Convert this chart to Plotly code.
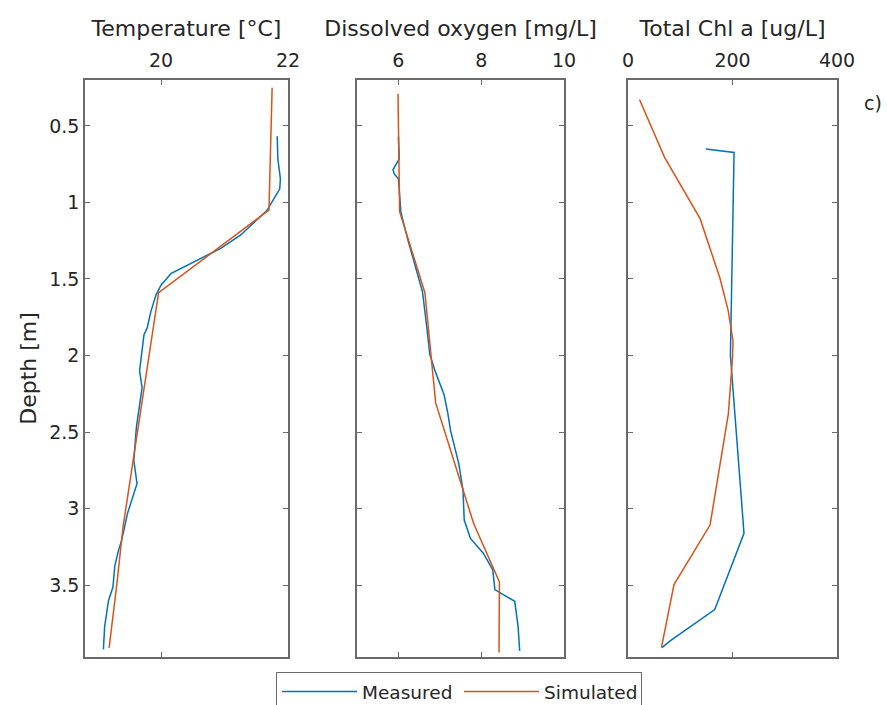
import plotly.graph_objects as go

# ---------------- data ----------------
# Temperature [°C]
temp_meas_depth = [0.567, 0.716, 0.846, 0.911, 1.052, 1.149, 1.214, 1.30, 1.366, 1.43, 1.463, 1.539, 1.604,
                   1.71, 1.82, 1.864, 2.101, 2.21, 2.34, 2.47, 2.686, 2.838, 3.032, 3.205, 3.27, 3.374,
                   3.515, 3.602, 3.77, 3.92]
temp_meas = [21.83, 21.84, 21.88, 21.87, 21.67, 21.41, 21.25, 20.94, 20.63, 20.31, 20.16, 20.0, 19.92,
             19.84, 19.78, 19.73, 19.66, 19.70, 19.65, 19.61, 19.57, 19.62, 19.47, 19.38, 19.33, 19.27,
             19.24, 19.17, 19.11, 19.09]
temp_sim_depth = [0.25, 1.05, 1.59, 3.12, 3.5, 3.91]
temp_sim = [21.75, 21.70, 19.96, 19.40, 19.30, 19.18]

# Dissolved oxygen [mg/L]
do_meas_depth = [0.57, 0.716, 0.786, 0.814, 0.846, 1.062, 1.236, 1.582, 1.755, 1.994, 2.112, 2.253, 2.372,
                 2.491, 2.708, 2.88, 3.075, 3.195, 3.292, 3.40, 3.53, 3.606, 3.768, 3.93]
do_meas = [6.00, 6.02, 5.87, 5.90, 6.00, 6.06, 6.22, 6.58, 6.66, 6.76, 6.90, 7.10, 7.19,
           7.26, 7.46, 7.56, 7.59, 7.74, 8.05, 8.28, 8.33, 8.81, 8.89, 8.93]
do_sim_depth = [0.29, 1.06, 1.59, 2.31, 3.1, 3.48, 3.94]
do_sim = [5.99, 6.03, 6.64, 6.90, 7.82, 8.44, 8.43]

# Total Chl a [ug/L]
chl_meas_depth = [0.651, 0.673, 2.0, 3.162, 3.66, 3.866, 3.909]
chl_meas = [149, 203, 196, 222, 166, 80, 65]
chl_sim_depth = [0.327, 0.705, 1.106, 1.495, 1.71, 1.906, 2.015, 2.383, 3.108, 3.497, 3.909]
chl_sim = [22, 70, 138, 176, 192, 201, 200, 192, 157, 88, 64]

series_names = ["Measured", "Simulated"]
panel_titles = ["Temperature [°C]", "Dissolved oxygen [mg/L]", "Total Chl a [ug/L]"]
x_ranges = [[18.8, 22], [5.0, 10], [0, 400]]
x_ticks = [[20, 22], [6, 8, 10], [0, 200, 400]]
y_ticks = [0.5, 1, 1.5, 2, 2.5, 3, 3.5]
y_tick_text = ["0.5", "1", "1.5", "2", "2.5", "3", "3.5"]
y_range = [3.97, 0.2]

BLUE = "#0072BD"
ORANGE = "#D95319"
AX = "#6a6a6a"
TXT = "#262626"
FONT = "DejaVu Sans, Liberation Sans, Arial, sans-serif"

W, H = 887, 705
px_x = [(85, 288), (357, 564), (628, 837)]
px_y = (80, 657)

fig = go.Figure()

panels = [
    (temp_meas_depth, temp_meas, temp_sim_depth, temp_sim),
    (do_meas_depth, do_meas, do_sim_depth, do_sim),
    (chl_meas_depth, chl_meas, chl_sim_depth, chl_sim),
]

for i, (md, mv, sd, sv) in enumerate(panels):
    xa = "x" if i == 0 else f"x{i+1}"
    ya = "y" if i == 0 else f"y{i+1}"
    fig.add_trace(go.Scatter(x=mv, y=md, mode="lines", line=dict(color=BLUE, width=1.5),
                             name=series_names[0], showlegend=(i == 0), xaxis=xa, yaxis=ya))
    fig.add_trace(go.Scatter(x=sv, y=sd, mode="lines", line=dict(color=ORANGE, width=1.5),
                             name=series_names[1], showlegend=(i == 0), xaxis=xa, yaxis=ya))

ydom = [(H - px_y[1]) / H, (H - px_y[0]) / H]
layout = dict(
    width=W, height=H, margin=dict(l=0, r=0, t=0, b=0, autoexpand=False),
    paper_bgcolor="white", plot_bgcolor="white",
    font=dict(family=FONT, size=19, color=TXT),
    showlegend=True,
    legend=dict(orientation="h", x=276 / W, y=(H - 672) / H, xanchor="left", yanchor="top",
                bordercolor=AX, borderwidth=1, bgcolor="white",
                font=dict(size=18.5, color=TXT), itemwidth=75, entrywidth=92),
)
for i in range(3):
    xk = "xaxis" if i == 0 else f"xaxis{i+1}"
    yk = "yaxis" if i == 0 else f"yaxis{i+1}"
    ya = "y" if i == 0 else f"y{i+1}"
    xa = "x" if i == 0 else f"x{i+1}"
    layout[xk] = dict(
        domain=[px_x[i][0] / W, px_x[i][1] / W], anchor=ya, side="top",
        range=x_ranges[i], tickvals=x_ticks[i], ticks="inside", ticklen=5, tickcolor=AX,
        showline=True, linecolor=AX, linewidth=1.5, mirror="ticks", showgrid=False, zeroline=False,
        tickfont=dict(size=19, color=TXT), automargin=False, ticklabelstandoff=4,
        title=dict(text=panel_titles[i], font=dict(size=22, color=TXT), standoff=6),
    )
    layout[yk] = dict(
        domain=ydom, anchor=xa, range=y_range, tickvals=y_ticks,
        ticktext=y_tick_text if i == 0 else [""] * len(y_ticks),
        ticks="inside", ticklen=5, tickcolor=AX,
        showline=True, linecolor=AX, linewidth=1.5, mirror="ticks", showgrid=False, zeroline=False,
        tickfont=dict(size=19, color=TXT), automargin=False,
        title=dict(text="Depth [m]" if i == 0 else "", font=dict(size=22, color=TXT), standoff=7),
    )
fig.update_layout(**layout)

fig.add_annotation(text="c)", x=873 / W, y=(H - 103) / H, xref="paper", yref="paper",
                   showarrow=False, font=dict(size=19, color=TXT), xanchor="center", yanchor="middle")

fig.write_html(
    "out.html",
    config={"responsive": False},
    post_script="document.documentElement.style.margin='0';document.body.style.margin='0';"
                "document.documentElement.style.overflow='hidden';document.body.style.overflow='hidden';",
)
